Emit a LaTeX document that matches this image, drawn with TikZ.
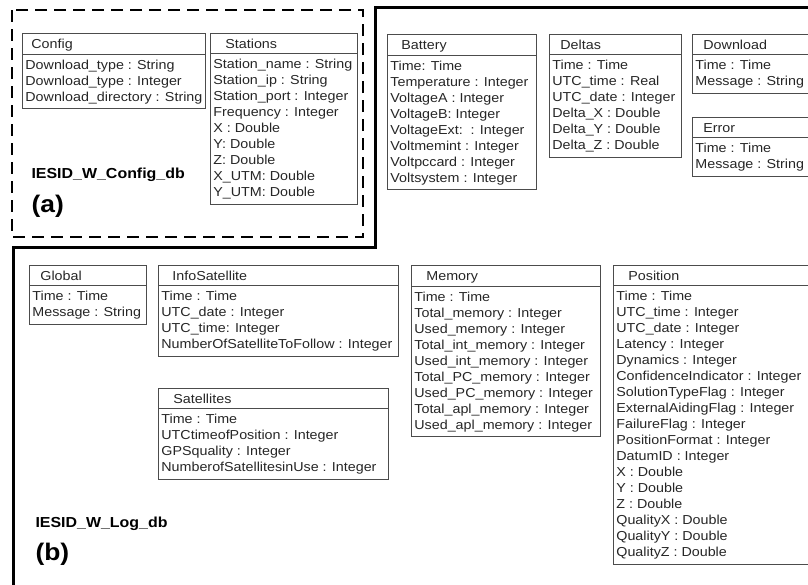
\documentclass[tikz,border=0pt]{standalone}
\usepackage{fontspec}
\setmainfont[FakeStretch=1.1]{Liberation Sans}
\usepackage{tikz}
\usetikzlibrary{shapes.multipart}

% struts for the table nodes
\newcommand{\upst}{\rule{0pt}{13pt}}
\newcommand{\dnst}{\rule[-5pt]{0pt}{5pt}}
\newcommand{\hd}[2]{\hspace*{#1}\upst#2\rule[-2pt]{0pt}{2pt}}

\begin{document}
\begin{tikzpicture}[x=1pt,y=-1pt,
  tbl/.style={draw=black!70, line width=.8pt, rectangle split, rectangle split parts=2,
    rectangle split part align={left,left}, align=left, inner xsep=3pt, inner ysep=2pt,
    anchor=north west, font=\fontsize{13}{16}\selectfont, text=black!85},
  dbname/.style={anchor=base west, font=\fontsize{14.5}{17}\selectfont\bfseries},
  tag/.style={anchor=base west, font=\fontsize{24}{28}\selectfont\bfseries}]
  \useasboundingbox (0,0) rectangle (808,584);
  % (a) config database
  \draw[line width=2.5pt, dash pattern=on 12pt off 7pt] (12,10) rectangle (363,237);
  \node[tbl, minimum width=182pt] (config) at (22,33) {\hd{6pt}{Config}
    \nodepart{two}\upst Download\_type : String\\Download\_type : Integer\\
    Download\_directory : String\dnst};
  \node[tbl, minimum width=147pt] (stations) at (210,33) {\hd{12pt}{Stations}
    \nodepart{two}\upst Station\_name : String\\Station\_ip : String\\
    Station\_port : Integer\\Frequency : Integer\\X : Double\\Y: Double\\Z: Double\\
    X\_UTM: Double\\Y\_UTM: Double\dnst};
  \node[dbname] (cfgname) at (28,178) {IESID\_W\_Config\_db};
  \node[tag] (taga) at (28,212) {(a)};
  % (b) log database
  \draw[line width=3pt] (820,7) -- (375,7) -- (375,247) -- (13,247) -- (13,600);
  \node[tbl, minimum width=149pt] (battery) at (387,34) {\hd{11pt}{Battery}
    \nodepart{two}\upst Time: Time\\Temperature : Integer\\VoltageA : Integer\\
    VoltageB: Integer\\VoltageExt:\ \ : Integer\\Voltmemint : Integer\\
    Voltpccard : Integer\\Voltsystem : Integer\dnst};
  \node[tbl, minimum width=132pt] (deltas) at (549,34) {\hd{8pt}{Deltas}
    \nodepart{two}\upst Time : Time\\UTC\_time : Real\\UTC\_date : Integer\\
    Delta\_X : Double\\Delta\_Y : Double\\Delta\_Z : Double\dnst};
  \node[tbl, minimum width=125pt] (download) at (692,34) {\hd{8pt}{Download}
    \nodepart{two}\upst Time : Time\\Message : String\dnst};
  \node[tbl, minimum width=125pt] (error) at (692,117) {\hd{8pt}{Error}
    \nodepart{two}\upst Time : Time\\Message : String\dnst};
  \node[tbl, minimum width=117pt] (global) at (29,265) {\hd{8pt}{Global}
    \nodepart{two}\upst Time : Time\\Message : String\dnst};
  \node[tbl, minimum width=240pt] (infosat) at (158,265) {\hd{11pt}{InfoSatellite}
    \nodepart{two}\upst Time : Time\\UTC\_date : Integer\\UTC\_time: Integer\\
    NumberOfSatelliteToFollow : Integer\dnst};
  \node[tbl, minimum width=230pt] (satellites) at (158,388) {\hd{12pt}{Satellites}
    \nodepart{two}\upst Time : Time\\UTCtimeofPosition : Integer\\
    GPSquality : Integer\\NumberofSatellitesinUse : Integer\dnst};
  \node[tbl, minimum width=189pt] (memory) at (411,265) {\hd{12pt}{Memory}
    \nodepart{two}\upst Time : Time\\Total\_memory : Integer\\Used\_memory : Integer\\
    Total\_int\_memory : Integer\\Used\_int\_memory : Integer\\
    Total\_PC\_memory : Integer\\Used\_PC\_memory : Integer\\
    Total\_apl\_memory : Integer\\Used\_apl\_memory : Integer\dnst};
  \node[tbl, minimum width=205pt] (position) at (613,265) {\hd{12pt}{Position}
    \nodepart{two}\upst Time : Time\\UTC\_time : Integer\\UTC\_date : Integer\\
    Latency : Integer\\Dynamics : Integer\\ConfidenceIndicator : Integer\\
    SolutionTypeFlag : Integer\\ExternalAidingFlag : Integer\\FailureFlag : Integer\\
    PositionFormat : Integer\\DatumID : Integer\\X : Double\\Y : Double\\Z : Double\\
    QualityX : Double\\QualityY : Double\\QualityZ : Double\dnst};
  \node[dbname] (logname) at (32,527) {IESID\_W\_Log\_db};
  \node[tag] (tagb) at (32,560) {(b)};
\end{tikzpicture}
\end{document}
